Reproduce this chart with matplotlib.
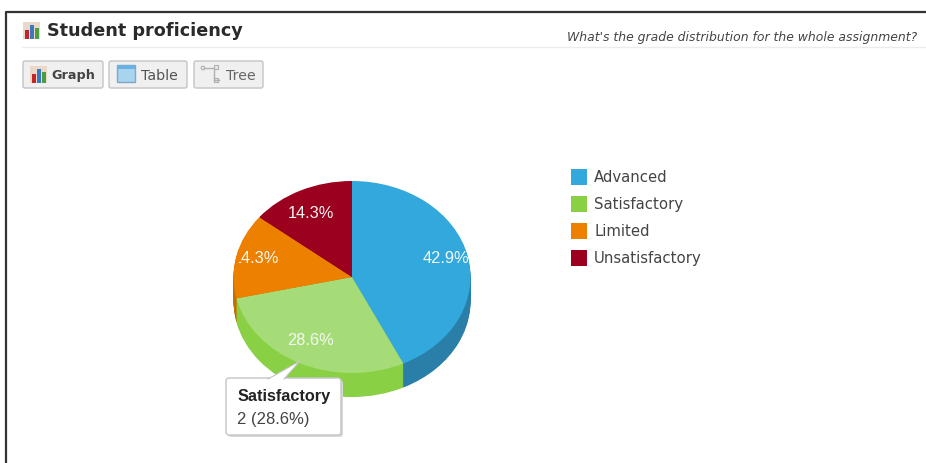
import matplotlib
matplotlib.use('Agg')
import matplotlib.pyplot as plt
from matplotlib.patches import Circle, FancyBboxPatch, Polygon, Rectangle

W, H = 926, 464

categories = ['Advanced', 'Satisfactory', 'Limited', 'Unsatisfactory']
values = [42.9, 28.6, 14.3, 14.3]
counts_label = '2 (28.6%)'
side_colors = ['#2a7fa8', '#8ad044', '#c46f00', '#7a0018']
top_colors = ['#32a8dd', '#a6dc78', '#ee8000', '#9b001f']
legend_colors = ['#32a8dd', '#8ad044', '#ee8000', '#9b001f']
pct_labels = ['42.9%', '28.6%', '14.3%', '14.3%']
pct_pos = [(446, 259), (311, 341), (256, 259), (311, 214)]

CX, CY, RX, RY, DEPTH = 352, 278, 118.5, 96, 24

fig = plt.figure(figsize=(W / 100, H / 100), dpi=100, facecolor='white')

# pie axes, squashed so the unit circle is an ellipse
pie_ax = fig.add_axes([0, 0, 1, 1])
for d in range(DEPTH, 0, -1):
    pie_ax.pie(values, colors=side_colors, startangle=90, counterclock=False,
               center=(0, -d / RY), frame=True)
pie_ax.pie(values, colors=top_colors, startangle=90, counterclock=False, frame=True)
pie_ax.set_aspect('auto')
pie_ax.set_xlim(-CX / RX, (W - CX) / RX)
pie_ax.set_ylim(-(H - CY) / RY, CY / RY)
pie_ax.axis('off')

# everything else in pixel coordinates
ax = fig.add_axes([0, 0, 1, 1])
ax.set_xlim(0, W)
ax.set_ylim(H, 0)
ax.axis('off')
ax.patch.set_alpha(0)

# outer frame
ax.plot([6, 6, W], [H, 13, 13], color='#333333', lw=1.6, solid_capstyle='butt')
ax.plot([22, W], [48, 48], color='#ececec', lw=1)


def bars_icon(x, y):
    ax.add_patch(Rectangle((x, y), 17, 17, fc='#ead9c8', ec='none'))
    ax.add_patch(Rectangle((x + 2, y + 8), 4, 9, fc='#c0262a', ec='none'))
    ax.add_patch(Rectangle((x + 7, y + 3), 4, 14, fc='#3a78c0', ec='none'))
    ax.add_patch(Rectangle((x + 12, y + 6), 4, 11, fc='#4aa040', ec='none'))


bars_icon(23, 23)
ax.text(47, 31.5, 'Student proficiency', fontsize=12.7, fontweight='bold',
        family='DejaVu Sans', color='#2a2a2a', va='center', ha='left')
ax.text(917, 37.5, "What's the grade distribution for the whole assignment?",
        fontsize=8.9, style='italic', family='DejaVu Sans', color='#444444',
        va='center', ha='right')

# buttons
for x0, x1 in [(23, 103), (109, 187), (194, 263)]:
    ax.add_patch(FancyBboxPatch((x0, 62), x1 - x0, 27, boxstyle='round,pad=0,rounding_size=2',
                                fc='#f0f0f0', ec='#c4c4c4', lw=1))
bars_icon(30, 67)
ax.text(51, 76, 'Graph', fontsize=9.2, fontweight='bold', family='DejaVu Sans', color='#444444', va='center')
ax.add_patch(Rectangle((117, 66), 18, 17, fc='#a8d4f0', ec='#7fa8c8', lw=1))
ax.add_patch(Rectangle((117, 66), 18, 4, fc='#6ab0e0', ec='none'))
ax.text(141, 76, 'Table', fontsize=10.2, family='DejaVu Sans', color='#555555', va='center')
ax.plot([204, 214, 214], [69, 69, 81], color='#b0b0b0', lw=1)
ax.plot([214, 219], [81, 81], color='#b0b0b0', lw=1)
ax.add_patch(Circle((203, 69), 1.8, fc='#e8e8e8', ec='#b0b0b0', lw=0.8))
ax.add_patch(Rectangle((214, 66), 4, 4, fc='#e8e8e8', ec='#b0b0b0', lw=0.8))
ax.add_patch(Rectangle((214, 79), 4, 4, fc='#e8e8e8', ec='#b0b0b0', lw=0.8))
ax.text(226, 76, 'Tree', fontsize=10.2, family='DejaVu Sans', color='#666666', va='center')

# slice labels
for i, (lab, (x, y)) in enumerate(zip(pct_labels, pct_pos)):
    t = ax.text(x, y, lab, fontsize=11.8, family='Liberation Sans', color='#f4f8f4', ha='center', va='center')
    if i == 2:
        # the leading 1 is cut off at the edge of the pie in the original
        t.set_clip_path(Rectangle((239, 240), 60, 40, transform=ax.transData))
        t.set_clip_on(True)

# legend
for i, (name, col) in enumerate(zip(categories, legend_colors)):
    y = 178 + i * 27
    ax.add_patch(Rectangle((571, y - 8), 16, 16, fc=col, ec='none'))
    ax.text(594, y, name, fontsize=10.7, family='DejaVu Sans', color='#444444', va='center')

# tooltip
ax.add_patch(FancyBboxPatch((228, 381), 115, 57, boxstyle='round,pad=0,rounding_size=3',
                            fc='#d8d8d8', ec='none'))
ax.add_patch(FancyBboxPatch((226, 379), 115, 57, boxstyle='round,pad=0,rounding_size=3',
                            fc='white', ec='#c4c4c4', lw=1))
ax.add_patch(Polygon([(268, 380), (300, 362), (284, 380)], closed=True, fc='white', ec='none'))
ax.plot([268, 300, 284], [380, 362, 380], color='#c4c4c4', lw=0.8)
ax.text(238, 397, categories[1], fontsize=11.7, fontweight='bold', family='Liberation Sans',
        color='#222222', va='center')
ax.text(237, 420, counts_label, fontsize=12, family='Liberation Sans', color='#444444', va='center')

fig.savefig('out.png', dpi=100)
